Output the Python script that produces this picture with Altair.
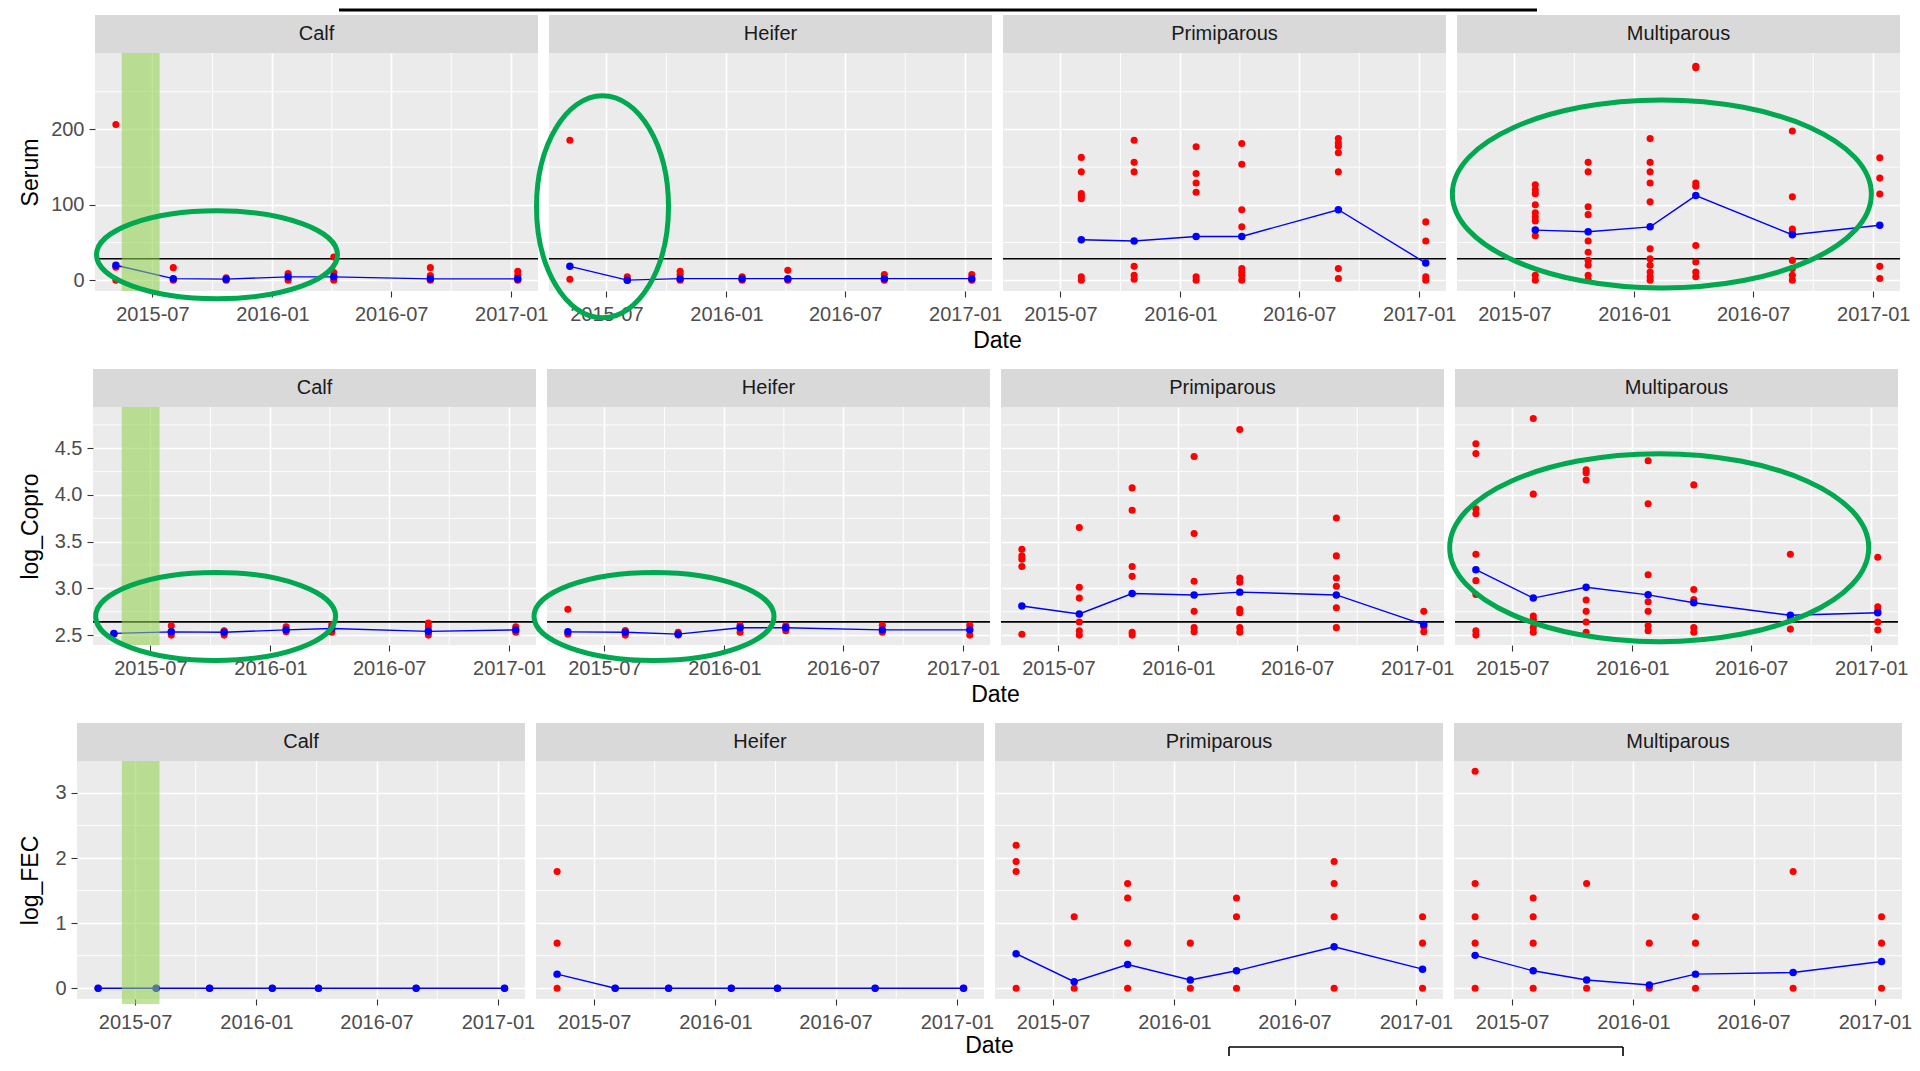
import altair as alt
import pandas as pd

FONT = "Liberation Sans"

DATES = ["2015-05-06", "2015-08-02", "2015-10-22", "2016-01-25",
         "2016-04-04", "2016-08-30", "2017-01-11"]
GROUPS = ["Calf", "Heifer", "Primiparous", "Multiparous"]
X_DOMAIN = ["2015-04-04", "2017-02-11"]
MAJOR_X = ["2015-07-01", "2016-01-01", "2016-07-01", "2017-01-01"]
MINOR_X = ["2015-10-01", "2016-04-01", "2016-10-01"]

# ---- Serum (red = individual samples per date, mean = blue line) ----
serum_calf = [[206.5, 17, 0], [16.6, 0], [3, 0], [8.7, 0], [30.6, 10, 0], [16.6, 6, 0], [11.8, 6.5, 0]]
serum_heifer = [[185.6, 1.3], [4.4, 0], [11.8, 7.4, 0], [4.4, 0], [13, 0], [7.4, 0], [7.4, 0]]
serum_primi = [[], [162.9, 143.7, 114.8, 111.4, 107.9, 4.4, 0],
               [185.6, 156.3, 143.7, 18.3, 6.6, 1.3],
               [176.9, 141.5, 128.8, 116.6, 4.4, 0],
               [181.2, 153.7, 93.4, 70.7, 15.3, 10.9, 6.6, 0],
               [187.8, 182, 177.7, 169, 143.7, 15.3, 2.2],
               [77.3, 52, 4.4, 0]]
serum_multi = [[], [126.6, 120, 114.8, 100, 89.5, 83.8, 78.6, 59, 6.6, 0],
               [156.3, 143.7, 97.4, 86.9, 52, 37.1, 26.2, 19.7, 6.6, 0],
               [187.8, 156.3, 143.7, 128.8, 103.9, 41.5, 28.4, 19.7, 10.9, 4.4, 0],
               [283.8, 281.7, 128.8, 124.5, 45.9, 24, 10.9, 4.4],
               [197.8, 110.5, 67.7, 63.3, 26.2, 15.3, 6.6, 0],
               [162.4, 135.4, 114.4, 18.3, 2.2]]
serum_mean_calf = [19.7, 2, 1.3, 4.4, 4.4, 1.7, 1.7]
serum_mean_heifer = [18.3, 0, 2, 2, 2, 2, 2]
serum_mean_primi = [None, 53.7, 52, 58, 58, 93.4, 22.7]
serum_mean_multi = [None, 66.4, 64.2, 70.7, 112.2, 60.3, 72.9]

# ---- log_Copro ----
copro_calf = [[2.51], [2.6, 2.5], [2.545, 2.5], [2.59, 2.535], [2.61, 2.53], [2.63, 2.59, 2.5], [2.59, 2.53]]
copro_heifer = [[2.776, 2.51], [2.55, 2.5], [2.53, 2.5], [2.606, 2.53], [2.6, 2.547], [2.606, 2.53], [2.606, 2.5]]
copro_primi = [[3.419, 3.348, 3.313, 3.235, 2.51],
               [3.652, 3.012, 2.896, 2.641, 2.546, 2.5],
               [4.076, 3.836, 3.235, 3.129, 2.53, 2.5],
               [4.412, 3.588, 3.076, 2.754, 2.58, 2.535],
               [4.701, 3.111, 3.065, 2.776, 2.74, 2.58, 2.53],
               [3.754, 3.348, 3.111, 3.023, 2.793, 2.58],
               [2.754, 2.59, 2.535]]
copro_multi = [[4.549, 4.443, 3.853, 3.8, 3.366, 3.083, 2.935, 2.546, 2.5],
               [4.818, 4.009, 2.705, 2.67, 2.64, 2.58, 2.53],
               [4.27, 4.239, 4.161, 2.875, 2.754, 2.641, 2.53],
               [4.366, 3.906, 3.147, 2.857, 2.754, 2.6, 2.546],
               [4.108, 2.988, 2.88, 2.58, 2.53],
               [3.366, 2.67, 2.564],
               [3.334, 2.804, 2.76, 2.641, 2.555]]
copro_mean_calf = [2.518, 2.535, 2.53, 2.556, 2.57, 2.54, 2.556]
copro_mean_heifer = [2.535, 2.53, 2.51, 2.578, 2.578, 2.556, 2.556]
copro_mean_primi = [2.811, 2.726, 2.945, 2.93, 2.96, 2.93, 2.613]
copro_mean_multi = [3.2, 2.896, 3.012, 2.931, 2.846, 2.712, 2.74]

# ---- log_FEC ----
fec_calf = [[0], [0], [0], [0], [0], [0], [0]]
fec_heifer = [[1.792, 0.693, 0], [0], [0], [0], [0], [0], [0]]
fec_primi = [[2.197, 1.946, 1.792, 0], [1.099, 0], [1.609, 1.386, 0.693, 0], [0.693, 0],
             [1.386, 1.099, 0], [1.946, 1.609, 1.099, 0], [1.099, 0.693, 0]]
fec_multi = [[3.332, 1.609, 1.099, 0.693, 0], [1.386, 1.099, 0.693, 0], [1.609, 0], [0.693, 0],
             [1.099, 0.693, 0], [1.792, 0], [1.099, 0.693, 0]]
fec_mean_calf = [0, 0, 0, 0, 0, 0, 0]
fec_mean_heifer = [0.217, 0, 0, 0, 0, 0, 0]
fec_mean_primi = [0.53, 0.1, 0.364, 0.126, 0.268, 0.636, 0.293]
fec_mean_multi = [0.505, 0.268, 0.126, 0.05, 0.217, 0.242, 0.41]

H = 238
STRIP = 38

ROWS = [
    dict(title="Serum", red=[serum_calf, serum_heifer, serum_primi, serum_multi],
         mean=[serum_mean_calf, serum_mean_heifer, serum_mean_primi, serum_mean_multi],
         ydom=[-14.4, 301.4], yticks=[0, 100, 200], yminor=[50, 150, 250], fmt="d",
         hline=28.4, shade=["2015-05-15", "2015-07-12"], width=443, shade_ext=0,
         tpad=8, lead=7, date_off=50),
    dict(title="log_Copro", red=[copro_calf, copro_heifer, copro_primi, copro_multi],
         mean=[copro_mean_calf, copro_mean_heifer, copro_mean_primi, copro_mean_multi],
         ydom=[2.394, 4.942], yticks=[2.5, 3.0, 3.5, 4.0, 4.5], yminor=[2.75, 3.25, 3.75, 4.25, 4.75],
         fmt=".1f", hline=2.641, shade=["2015-05-18", "2015-07-15"], width=443, shade_ext=0,
         tpad=12, lead=5, date_off=50),
    dict(title="log_FEC", red=[fec_calf, fec_heifer, fec_primi, fec_multi],
         mean=[fec_mean_calf, fec_mean_heifer, fec_mean_primi, fec_mean_multi],
         ydom=[-0.165, 3.49], yticks=[0, 1, 2, 3], yminor=[0.5, 1.5, 2.5], fmt="d",
         hline=None, shade=["2015-06-11", "2015-08-07"], width=448, shade_ext=5,
         tpad=12, lead=0, date_off=47),
]

# highlight ellipses: (row, group, centre date, centre value, half width px, half height px)
ELLIPSES = [
    (0, "Calf", "2015-10-08", 33.8, 120.5, 44.0),
    (0, "Heifer", "2015-06-25", 97.3, 66.0, 111.0),
    (0, "Multiparous", "2016-02-12", 114.4, 209.5, 94.0),
    (1, "Calf", "2015-10-09", 2.70, 120.0, 44.0),
    (1, "Heifer", "2015-09-15", 2.70, 120.0, 44.0),
    (1, "Multiparous", "2016-02-11", 3.436, 209.5, 94.0),
]


def dt(s):
    y, m, d = map(int, s.split("-"))
    return alt.DateTime(year=y, month=m, date=d)


def one():
    return pd.DataFrame({"k": [0]})


def make_panel(ri, gi):
    row = ROWS[ri]
    g = GROUPS[gi]
    W = row["width"]
    xs = alt.Scale(domain=[dt(X_DOMAIN[0]), dt(X_DOMAIN[1])], nice=False)
    ys = alt.Scale(domain=row["ydom"], nice=False, zero=False)
    first = gi == 0

    xaxis = alt.Axis(values=[dt(v) for v in MAJOR_X], format="%Y-%m", title=None,
                     grid=True, gridColor="white", gridWidth=1.6, domain=False,
                     tickSize=6, tickColor="#333333", tickWidth=1.1, labelPadding=7,
                     labelFontSize=20, labelColor="#4D4D4D", labelFont=FONT,
                     labelFlush=False, labelOverlap=False)
    if first:
        yaxis = alt.Axis(values=row["yticks"], format=row["fmt"], title=row["title"],
                         grid=True, gridColor="white", gridWidth=1.6, domain=False,
                         tickSize=6, tickColor="#333333", tickWidth=1.1, labelPadding=5,
                         labelFontSize=20, labelColor="#4D4D4D", labelFont=FONT,
                         titleFont=FONT, titleFontSize=23, titleFontWeight="normal",
                         titleColor="black", titlePadding=row["tpad"])
    else:
        yaxis = alt.Axis(values=row["yticks"], labels=False, ticks=False, domain=False,
                         title=None, grid=True, gridColor="white", gridWidth=1.6)

    X = lambda f="Date": alt.X(f"{f}:T", scale=xs, axis=xaxis)
    Y = lambda f="value": alt.Y(f"{f}:Q", scale=ys, axis=yaxis)

    red_rows = []
    for i, vals in enumerate(row["red"][gi]):
        for v in vals:
            red_rows.append({"Date": DATES[i], "value": v})
    red_df = pd.DataFrame(red_rows)
    red_df["Date"] = pd.to_datetime(red_df["Date"])

    mean_df = pd.DataFrame({"Date": DATES, "value": row["mean"][gi]}).dropna()
    mean_df["Date"] = pd.to_datetime(mean_df["Date"])

    layers = []
    # minor grid
    layers.append(alt.Chart(pd.DataFrame({"Date": pd.to_datetime(MINOR_X)}))
                  .mark_rule(color="white", strokeWidth=0.9)
                  .encode(x=X()))
    layers.append(alt.Chart(pd.DataFrame({"value": row["yminor"]}))
                  .mark_rule(color="white", strokeWidth=0.9)
                  .encode(y=Y()))
    # threshold line
    if row["hline"] is not None:
        layers.append(alt.Chart(pd.DataFrame({"value": [row["hline"]]}))
                      .mark_rule(color="black", strokeWidth=1.7)
                      .encode(y=Y()))
    # red individual points
    layers.append(alt.Chart(red_df)
                  .mark_point(filled=True, shape="circle", size=50, color="#FF0000",
                              opacity=1, strokeWidth=0)
                  .encode(x=X(), y=Y()))
    # blue mean line + points
    layers.append(alt.Chart(mean_df)
                  .mark_line(color="#0000FF", strokeWidth=1.4)
                  .encode(x=X(), y=Y()))
    layers.append(alt.Chart(mean_df)
                  .mark_point(filled=True, shape="circle", size=56, color="#0000FF",
                              opacity=1, strokeWidth=0)
                  .encode(x=X(), y=Y()))
    # green shaded period (Calf only)
    if g == "Calf":
        sh = pd.DataFrame({"Date": pd.to_datetime([row["shade"][0]]),
                           "End": pd.to_datetime([row["shade"][1]])})
        layers.append(alt.Chart(sh)
                      .mark_rect(color="#92D050", opacity=0.58)
                      .encode(x=X(), x2="End:T",
                              y=alt.value(0), y2=alt.value(H + row["shade_ext"])))
    # ellipses
    for (er, eg, ed, ev, a, b) in ELLIPSES:
        if er == ri and eg == g:
            r = b / a
            path = f"M -1 0 A 1 {r:.4f} 0 1 1 1 0 A 1 {r:.4f} 0 1 1 -1 0 Z"
            edf = pd.DataFrame({"Date": pd.to_datetime([ed]), "value": [ev]})
            layers.append(alt.Chart(edf)
                          .mark_point(shape=path, filled=False, color="#00A84F",
                                      strokeWidth=5, opacity=1, size=(2 * a) ** 2)
                          .encode(x=X(), y=Y()))
    # facet strip
    layers.append(alt.Chart(pd.DataFrame({"label": [g]}))
                  .mark_rect(color="#D9D9D9")
                  .encode(x=alt.value(0), x2=alt.value(W),
                          y=alt.value(-STRIP), y2=alt.value(0)))
    layers.append(alt.Chart(pd.DataFrame({"label": [g]}))
                  .mark_text(font=FONT, fontSize=20, color="#1A1A1A",
                             align="center", baseline="middle")
                  .encode(x=alt.value(W / 2), y=alt.value(-STRIP / 2), text="label:N"))
    # x-axis title for the row
    if g == "Heifer":
        layers.append(alt.Chart(pd.DataFrame({"t": ["Date"]}))
                      .mark_text(font=FONT, fontSize=23, color="black",
                                 align="center", baseline="middle")
                      .encode(x=alt.value(W + 5.5), y=alt.value(H + row["date_off"]),
                              text="t:N"))
    # decorative frame lines from the original slide
    if ri == 0 and g == "Calf":
        layers.append(alt.Chart(one())
                      .mark_rule(color="black", strokeWidth=3)
                      .encode(x=alt.value(244), x2=alt.value(1442),
                              y=alt.value(-STRIP - 5)))
    if ri == 2 and g == "Primiparous":
        yb = H + row["date_off"] + 1
        layers.append(alt.Chart(one())
                      .mark_rule(color="black", strokeWidth=1.6)
                      .encode(x=alt.value(234), x2=alt.value(628), y=alt.value(yb)))
        for xv in (234, 628):
            layers.append(alt.Chart(one())
                          .mark_rule(color="black", strokeWidth=1.6)
                          .encode(x=alt.value(xv), y=alt.value(yb), y2=alt.value(yb + 9)))

    return alt.layer(*layers).properties(width=W, height=H)


def spacer(w):
    return (alt.Chart(one()).mark_point(opacity=0)
            .properties(width=w, height=H, view=alt.ViewBackground(fill=None, stroke=None)))


rows = []
for ri in range(3):
    panels = [make_panel(ri, gi) for gi in range(4)]
    if ROWS[ri]["lead"]:
        panels = [spacer(ROWS[ri]["lead"])] + panels
    rows.append(alt.hconcat(*panels, spacing=11, bounds="flush"))

chart = (alt.vconcat(*rows, spacing=16)
         .properties(padding={"left": 11, "top": 0, "right": 0, "bottom": 0},
                     background="white")
         .configure_view(stroke=None, fill="#EBEBEB"))

chart.save("out.html", embed_options={"renderer": "svg", "actions": False})
